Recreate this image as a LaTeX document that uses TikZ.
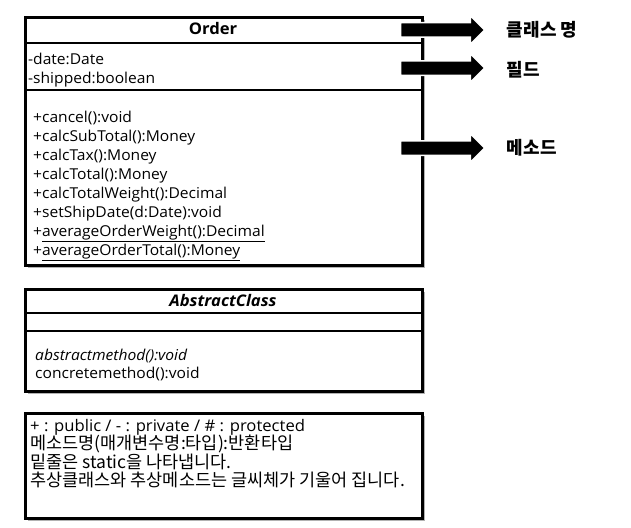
\documentclass[tikz,border=0pt]{standalone}
\usepackage{fontspec}
\setmainfont{Open Sans}[FakeStretch=1.04]
\newfontfamily\kr{Noto Sans CJK KR}
\usetikzlibrary{shapes.arrows,shadows,positioning}

\begin{document}
\begin{tikzpicture}[x=1pt, y=-1pt,
    every node/.style={font=\fontsize{15}{18}\selectfont},
    umlbox/.style={draw, line width=2.8pt, fill=white, anchor=north west, inner sep=0pt,
      drop shadow={shadow xshift=2.5pt, shadow yshift=-2.5pt, fill=gray!60, opacity=1}},
    sep/.style={line width=2.8pt},
    member/.style={anchor=base west, inner sep=0pt},
    pointer/.style={single arrow, fill=black, draw=white, line width=1.5pt, minimum height=84pt,
      minimum width=27pt, single arrow head extend=7pt, inner sep=6.5pt},
    tag/.style={anchor=west, inner sep=0pt, font=\kr\bfseries\fontsize{18}{20}\selectfont}]

    \useasboundingbox (0,0) rectangle (631,527);

    % class Order
    \node [umlbox, minimum width=397pt, minimum height=248pt] (order) at (24,16) {};
    \draw [sep] ([yshift=-27pt]order.north west) -- ([yshift=-27pt]order.north east);
    \draw [sep] ([yshift=-74pt]order.north west) -- ([yshift=-74pt]order.north east);
    \node [font=\bfseries\fontsize{16}{18}\selectfont] (ordername) at (213,29) {Order};
    \foreach \f [count=\i] in {-date:Date, -shipped:boolean}
      \node [member] (field\i) at ({28}, {64+19*(\i-1)}) {\f};
    \foreach \m [count=\i] in {+cancel():void, +calcSubTotal():Money, +calcTax():Money,
        +calcTotal():Money, +calcTotalWeight():Decimal, +setShipDate(d:Date):void,
        +\underline{averageOrderWeight():Decimal}, +\underline{averageOrderTotal():Money}}
      \node [member] (method\i) at ({33}, {122+19*(\i-1)}) {\m};

    % abstract class
    \node [umlbox, minimum width=397pt, minimum height=102pt] (abstract) at (24,288) {};
    \draw [sep] ([yshift=-25pt]abstract.north west) -- ([yshift=-25pt]abstract.north east);
    \draw [sep] ([yshift=-43pt]abstract.north west) -- ([yshift=-43pt]abstract.north east);
    \node [font=\bfseries\itshape\fontsize{16}{18}\selectfont] (abstractname) at (223,300) {AbstractClass};
    \node [member] (abstractop) at (35,360) {\itshape abstractmethod():void};
    \node [member] (concreteop) at (35,378) {concretemethod():void};

    % notes
    \node [umlbox, minimum width=397pt, minimum height=105pt] (note) at (24,412) {};
    \node [member, font=\fontsize{16}{18}\selectfont] (line1) at (30,431.5) {+ : public / - : private / \# : protected};
    \foreach \t [count=\i from 2] in {메소드명(매개변수명:타입):반환타입,
        밑줄은 static을 나타냅니다., 추상클래스와 추상메소드는 글씨체가 기울어 집니다.}
      \node [member, font=\kr\fontsize{17.5}{18}\selectfont] (line\i) at ({30}, {431+18.5*(\i-1)}) {\t};

    % pointers
    \node [pointer] (toname) at (439,30) {};
    \node [pointer] (tofield) at (439,68) {};
    \node [pointer] (tomethod) at (439,148) {};
    \node [tag, right=21pt of toname] (namelabel) {클래스 명};
    \node [tag, right=21pt of tofield, yshift=-2pt] (fieldlabel) {필드};
    \node [tag, right=21pt of tomethod] (methodlabel) {메소드};

\end{tikzpicture}
\end{document}
